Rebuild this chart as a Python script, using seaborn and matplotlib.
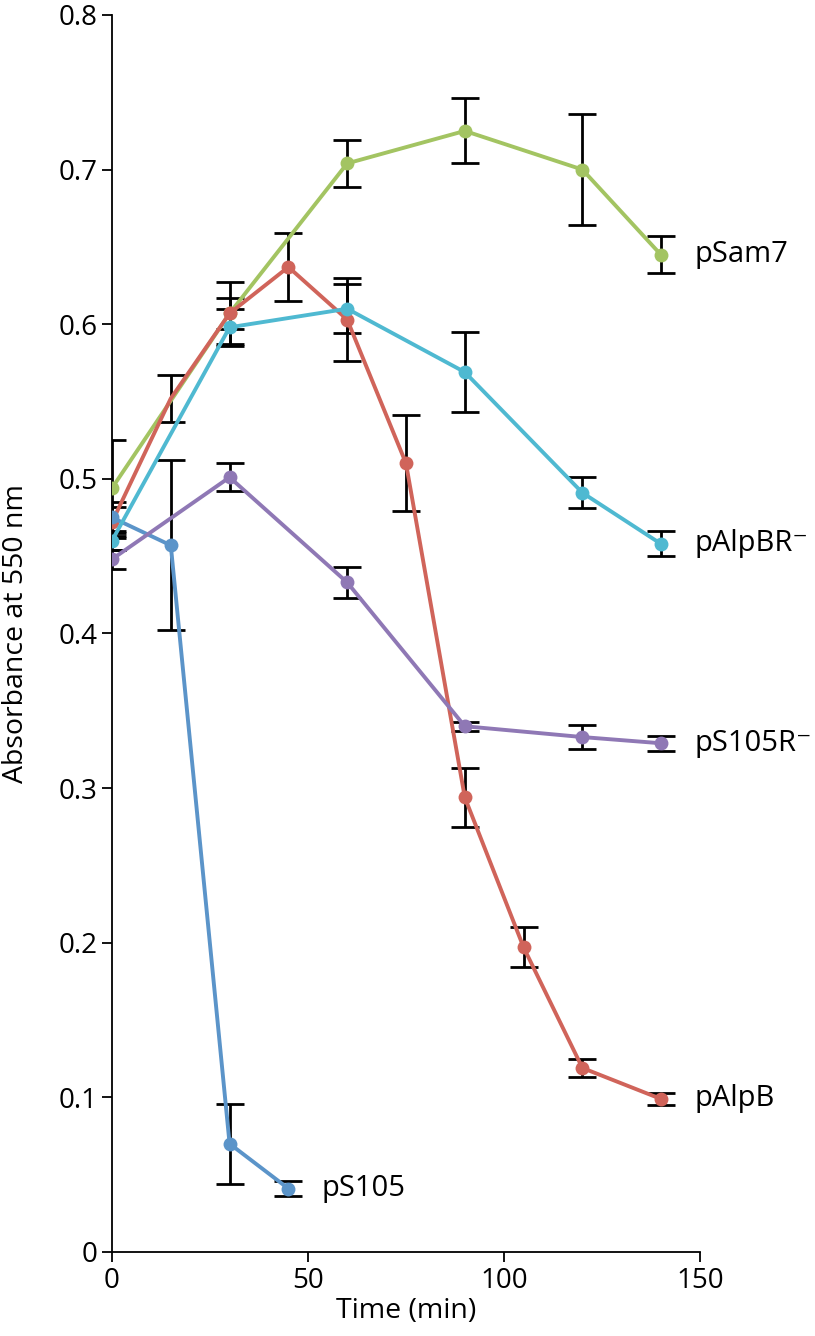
import numpy as np
import pandas as pd
import matplotlib
matplotlib.use('Agg')
import matplotlib.pyplot as plt
import seaborn as sns

# ─── Datos ───────────────────────────────────────────────────────────────────
t_sam7  = [0, 30, 60, 90, 120, 140]
a_sam7  = [0.494, 0.607, 0.704, 0.725, 0.700, 0.645]
e_sam7  = [0.031, 0.010, 0.015, 0.021, 0.036, 0.012]

t_alpb  = [0, 15, 30, 45, 60, 75, 90, 105, 120, 140]
a_alpb  = [0.472, 0.552, 0.607, 0.637, 0.603, 0.510, 0.294, 0.197, 0.119, 0.099]
e_alpb  = [0.010, 0.015, 0.020, 0.022, 0.027, 0.031, 0.019, 0.013, 0.006, 0.004]

t_alpbr = [0, 30, 60, 90, 120, 140]
a_alpbr = [0.460, 0.598, 0.610, 0.569, 0.491, 0.458]
e_alpbr = [0.006, 0.012, 0.016, 0.026, 0.010, 0.008]

t_s105r = [0, 30, 60, 90, 120, 140]
a_s105r = [0.448, 0.501, 0.433, 0.340, 0.333, 0.329]
e_s105r = [0.006, 0.009, 0.010, 0.003, 0.008, 0.005]

t_s105  = [0, 15, 30, 45]
a_s105  = [0.475, 0.457, 0.070, 0.041]
e_s105  = [0.010, 0.055, 0.026, 0.005]

# ─── Paleta ─────────────────────────────────────────────────────────────────
C_SAM7  = '#a3c462'
C_ALPB  = '#d0645a'
C_ALPBR = '#4fb9d1'
C_S105R = '#8f78b5'
C_S105  = '#5b94c9'

series = [
    ('pSam7',      t_sam7,  a_sam7,  e_sam7,  C_SAM7,  None),
    ('pAlpB',      t_alpb,  a_alpb,  e_alpb,  C_ALPB,  [0, 2, 3, 4, 5, 6, 7, 8, 9]),
    ('pS105',      t_s105,  a_s105,  e_s105,  C_S105,  None),
    ('pS105R\u207b', t_s105r, a_s105r, e_s105r, C_S105R, None),
    ('pAlpBR\u207b', t_alpbr, a_alpbr, e_alpbr, C_ALPBR, None),
]

sns.set_style('ticks')
plt.rcParams['font.family'] = ['Open Sans', 'DejaVu Sans']

fig = plt.figure(figsize=(8.15, 13.36), dpi=100)
ax = fig.add_axes([0.1374, 0.0629, 0.7215, 0.9259])

# barras de error (debajo de las líneas)
for name, t, a, e, col, mev in series:
    ax.errorbar(t, a, yerr=e, fmt='none', ecolor='black', elinewidth=2.0,
                capsize=10, capthick=2.0, zorder=2)

# líneas + etiquetas al final de cada serie
for i, (name, t, a, e, col, mev) in enumerate(series):
    df = pd.DataFrame({'t': t, 'a': a})
    sns.lineplot(data=df, x='t', y='a', ax=ax, color=col, linewidth=2.8,
                 marker='o', markersize=10, markeredgewidth=0,
                 markevery=mev if mev else None, zorder=3 + i)
    ax.annotate(name, xy=(t[-1], a[-1]), xytext=(24, 0),
                textcoords='offset points', va='center', ha='left',
                fontsize=21, color='black')

ax.set_xlim(0, 150)
ax.set_ylim(0, 0.8)
ax.set_xticks([0, 50, 100, 150])
ax.set_yticks(np.arange(0, 0.81, 0.1))
ax.set_yticklabels(['0', '0.1', '0.2', '0.3', '0.4', '0.5', '0.6', '0.7', '0.8'])
ax.set_xlabel('Time (min)', fontsize=20.5, labelpad=2, color='black')
ax.set_ylabel('Absorbance at 550 nm', fontsize=20.5, labelpad=0, color='black')
ax.yaxis.set_label_coords(-0.14, 0.5)
ax.tick_params(axis='both', labelsize=20, length=7, width=1.3, direction='out',
               color='black', labelcolor='black')
for s in ['top', 'right']:
    ax.spines[s].set_visible(False)
for s in ['left', 'bottom']:
    ax.spines[s].set_linewidth(1.3)
    ax.spines[s].set_color('black')
ax.margins(0)

fig.savefig('out.png', dpi=100)
